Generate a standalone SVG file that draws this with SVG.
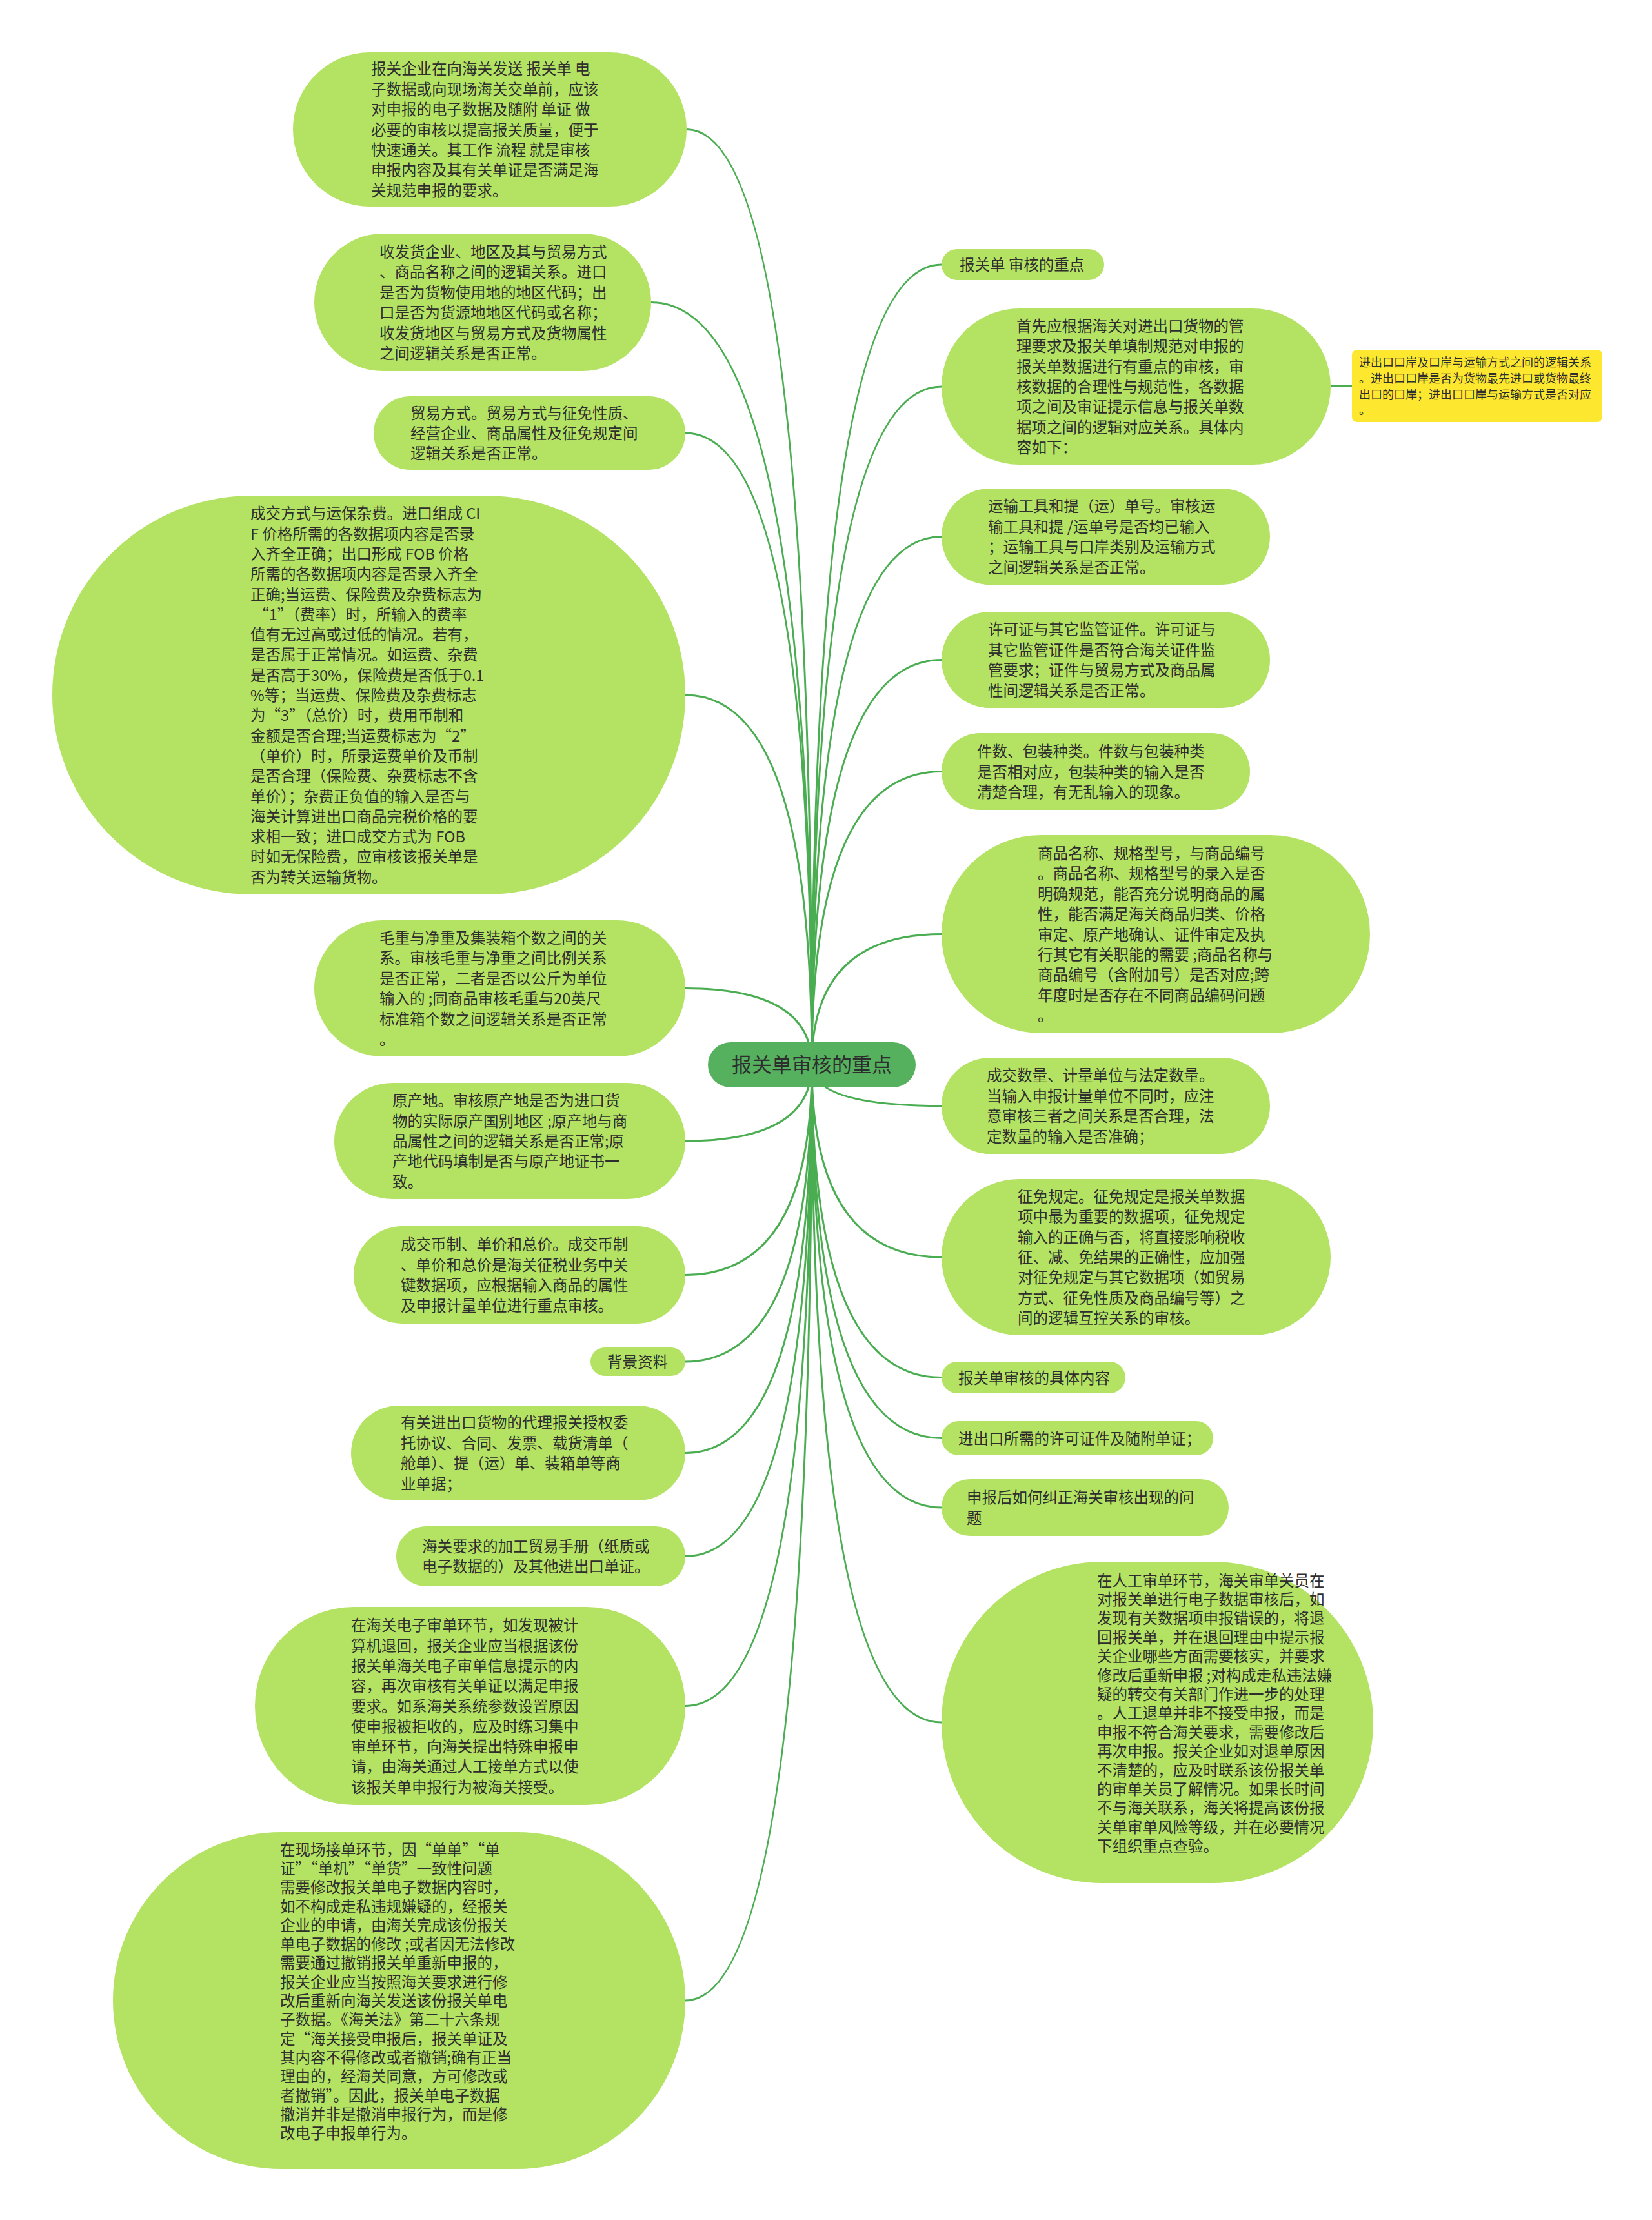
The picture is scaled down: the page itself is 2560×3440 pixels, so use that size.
<svg xmlns="http://www.w3.org/2000/svg" width="2560" height="3440" viewBox="0 0 2560 3440">
<style>
.bg{fill:#ffffff}
.n rect{fill:#b4e363}
.y rect{fill:#fde72f}
.root rect{fill:#55b15e}
.c path{fill:none;stroke:#4aad52;stroke-width:3}
text{font-family:"Noto Sans CJK SC","Noto Sans",sans-serif;fill:#2e2e2e}
.t{font-size:23.5px}
.ts{font-size:18px}
.tr{font-size:31px}
</style>
<rect class="bg" x="0" y="0" width="2560" height="3440"/>
<g id="connectors" class="c">
<path d="M1258,1650 Q1258,200.5 1064,200.5"/>
<path d="M1258,1650 Q1258,468.5 1009,468.5"/>
<path d="M1258,1650 Q1258,671 1062,671"/>
<path d="M1258,1650 Q1258,1077 1062,1077"/>
<path d="M1258,1650 Q1258,1531.5 1062,1531.5"/>
<path d="M1258,1650 Q1258,1768 1062,1768"/>
<path d="M1258,1650 Q1258,1975.5 1062,1975.5"/>
<path d="M1258,1650 Q1258,2110 1062,2110"/>
<path d="M1258,1650 Q1258,2251.5 1062,2251.5"/>
<path d="M1258,1650 Q1258,2411.5 1062,2411.5"/>
<path d="M1258,1650 Q1258,2643.5 1062,2643.5"/>
<path d="M1258,1650 Q1258,3100 1062,3100"/>
<path d="M1258,1650 Q1258,410 1459,410"/>
<path d="M1258,1650 Q1258,599 1459,599"/>
<path d="M1258,1650 Q1258,831.5 1459,831.5"/>
<path d="M1258,1650 Q1258,1022.5 1459,1022.5"/>
<path d="M1258,1650 Q1258,1195.5 1459,1195.5"/>
<path d="M1258,1650 Q1258,1447.5 1459,1447.5"/>
<path d="M1258,1650 Q1258,1713.5 1459,1713.5"/>
<path d="M1258,1650 Q1258,1948 1459,1948"/>
<path d="M1258,1650 Q1258,2134.5 1459,2134.5"/>
<path d="M1258,1650 Q1258,2228.5 1459,2228.5"/>
<path d="M1258,1650 Q1258,2336 1459,2336"/>
<path d="M1258,1650 Q1258,2669 1459,2669"/>
<path d="M2062,598 L2095,598"/>
</g>
<g id="root" class="root">
<rect x="1097" y="1615" width="322" height="70" rx="35" ry="35"/>
<text class="tr" x="1258" y="1661" text-anchor="middle">报关单审核的重点</text>
</g>
<g id="L1" class="n">
<rect x="454" y="81" width="610" height="239" rx="119.5" ry="119.5"/>
<text class="t" x="575" y="115.3"><tspan x="575">报关企业在向海关发送 报关单 电</tspan><tspan x="575" dy="31.4">子数据或向现场海关交单前，应该</tspan><tspan x="575" dy="31.4">对申报的电子数据及随附 单证 做</tspan><tspan x="575" dy="31.4">必要的审核以提高报关质量，便于</tspan><tspan x="575" dy="31.4">快速通关。其工作 流程 就是审核</tspan><tspan x="575" dy="31.4">申报内容及其有关单证是否满足海</tspan><tspan x="575" dy="31.4">关规范申报的要求。</tspan></text>
</g>
<g id="L2" class="n">
<rect x="487" y="362" width="522" height="213" rx="106.5" ry="106.5"/>
<text class="t" x="588" y="399"><tspan x="588">收发货企业、地区及其与贸易方式</tspan><tspan x="588" dy="31.4">、商品名称之间的逻辑关系。进口</tspan><tspan x="588" dy="31.4">是否为货物使用地的地区代码；出</tspan><tspan x="588" dy="31.4">口是否为货源地地区代码或名称；</tspan><tspan x="588" dy="31.4">收发货地区与贸易方式及货物属性</tspan><tspan x="588" dy="31.4">之间逻辑关系是否正常。</tspan></text>
</g>
<g id="L3" class="n">
<rect x="579" y="614" width="483" height="114" rx="57" ry="57"/>
<text class="t" x="636" y="648.6"><tspan x="636">贸易方式。贸易方式与征免性质、</tspan><tspan x="636" dy="31.4">经营企业、商品属性及征免规定间</tspan><tspan x="636" dy="31.4">逻辑关系是否正常。</tspan></text>
</g>
<g id="L4" class="n">
<rect x="81" y="768" width="981" height="618" rx="309" ry="309"/>
<text class="t" x="388" y="804.3"><tspan x="388">成交方式与运保杂费。进口组成 CI</tspan><tspan x="388" dy="31.3">F 价格所需的各数据项内容是否录</tspan><tspan x="388" dy="31.3">入齐全正确；出口形成 FOB 价格</tspan><tspan x="388" dy="31.3">所需的各数据项内容是否录入齐全</tspan><tspan x="388" dy="31.3">正确;当运费、保险费及杂费标志为</tspan><tspan x="388" dy="31.3"> “1”（费率）时，所输入的费率</tspan><tspan x="388" dy="31.3">值有无过高或过低的情况。若有，</tspan><tspan x="388" dy="31.3">是否属于正常情况。如运费、杂费</tspan><tspan x="388" dy="31.3">是否高于30%，保险费是否低于0.1</tspan><tspan x="388" dy="31.3">%等；当运费、保险费及杂费标志</tspan><tspan x="388" dy="31.3">为“3”（总价）时，费用币制和</tspan><tspan x="388" dy="31.3">金额是否合理;当运费标志为“2”</tspan><tspan x="388" dy="31.3">（单价）时，所录运费单价及币制</tspan><tspan x="388" dy="31.3">是否合理（保险费、杂费标志不含</tspan><tspan x="388" dy="31.3">单价）；杂费正负值的输入是否与</tspan><tspan x="388" dy="31.3">海关计算进出口商品完税价格的要</tspan><tspan x="388" dy="31.3">求相一致；进口成交方式为 FOB</tspan><tspan x="388" dy="31.3">时如无保险费，应审核该报关单是</tspan><tspan x="388" dy="31.3">否为转关运输货物。</tspan></text>
</g>
<g id="L5" class="n">
<rect x="487" y="1426" width="575" height="211" rx="105.5" ry="105.5"/>
<text class="t" x="588" y="1462"><tspan x="588">毛重与净重及集装箱个数之间的关</tspan><tspan x="588" dy="31.4">系。审核毛重与净重之间比例关系</tspan><tspan x="588" dy="31.4">是否正常，二者是否以公斤为单位</tspan><tspan x="588" dy="31.4">输入的 ;同商品审核毛重与20英尺</tspan><tspan x="588" dy="31.4">标准箱个数之间逻辑关系是否正常</tspan><tspan x="588" dy="31.4">。</tspan></text>
</g>
<g id="L6" class="n">
<rect x="518" y="1678" width="544" height="180" rx="90" ry="90"/>
<text class="t" x="608" y="1714.2"><tspan x="608">原产地。审核原产地是否为进口货</tspan><tspan x="608" dy="31.4">物的实际原产国别地区 ;原产地与商</tspan><tspan x="608" dy="31.4">品属性之间的逻辑关系是否正常;原</tspan><tspan x="608" dy="31.4">产地代码填制是否与原产地证书一</tspan><tspan x="608" dy="31.4">致。</tspan></text>
</g>
<g id="L7" class="n">
<rect x="548" y="1900" width="514" height="151" rx="75.5" ry="75.5"/>
<text class="t" x="621" y="1937.4"><tspan x="621">成交币制、单价和总价。成交币制</tspan><tspan x="621" dy="31.4">、单价和总价是海关征税业务中关</tspan><tspan x="621" dy="31.4">键数据项，应根据输入商品的属性</tspan><tspan x="621" dy="31.4">及申报计量单位进行重点审核。</tspan></text>
</g>
<g id="L8" class="n">
<rect x="915" y="2088" width="147" height="44" rx="22" ry="22"/>
<text class="t" x="941" y="2119">背景资料</text>
</g>
<g id="L9" class="n">
<rect x="544" y="2178" width="518" height="147" rx="73.5" ry="73.5"/>
<text class="t" x="621" y="2213.4"><tspan x="621">有关进出口货物的代理报关授权委</tspan><tspan x="621" dy="31.4">托协议、合同、发票、载货清单（</tspan><tspan x="621" dy="31.4">舱单）、提（运）单、装箱单等商</tspan><tspan x="621" dy="31.4">业单据；</tspan></text>
</g>
<g id="L10" class="n">
<rect x="614" y="2365" width="448" height="93" rx="46.5" ry="46.5"/>
<text class="t" x="654" y="2404.8"><tspan x="654">海关要求的加工贸易手册（纸质或</tspan><tspan x="654" dy="31.4">电子数据的）及其他进出口单证。</tspan></text>
</g>
<g id="L11" class="n">
<rect x="395" y="2490" width="667" height="307" rx="153.5" ry="153.5"/>
<text class="t" x="544" y="2527.3"><tspan x="544">在海关电子审单环节，如发现被计</tspan><tspan x="544" dy="31.3">算机退回，报关企业应当根据该份</tspan><tspan x="544" dy="31.3">报关单海关电子审单信息提示的内</tspan><tspan x="544" dy="31.3">容，再次审核有关单证以满足申报</tspan><tspan x="544" dy="31.3">要求。如系海关系统参数设置原因</tspan><tspan x="544" dy="31.3">使申报被拒收的，应及时练习集中</tspan><tspan x="544" dy="31.3">审单环节，向海关提出特殊申报申</tspan><tspan x="544" dy="31.3">请，由海关通过人工接单方式以使</tspan><tspan x="544" dy="31.3">该报关单申报行为被海关接受。</tspan></text>
</g>
<g id="L12" class="n">
<rect x="175" y="2839" width="887" height="522" rx="261" ry="261"/>
<text class="t" x="434" y="2874.6"><tspan x="434">在现场接单环节，因“单单”“单</tspan><tspan x="434" dy="29.3">证”“单机”“单货”一致性问题</tspan><tspan x="434" dy="29.3">需要修改报关单电子数据内容时，</tspan><tspan x="434" dy="29.3">如不构成走私违规嫌疑的，经报关</tspan><tspan x="434" dy="29.3">企业的申请，由海关完成该份报关</tspan><tspan x="434" dy="29.3">单电子数据的修改 ;或者因无法修改</tspan><tspan x="434" dy="29.3">需要通过撤销报关单重新申报的，</tspan><tspan x="434" dy="29.3">报关企业应当按照海关要求进行修</tspan><tspan x="434" dy="29.3">改后重新向海关发送该份报关单电</tspan><tspan x="434" dy="29.3">子数据。《海关法》第二十六条规</tspan><tspan x="434" dy="29.3">定“海关接受申报后，报关单证及</tspan><tspan x="434" dy="29.3">其内容不得修改或者撤销;确有正当</tspan><tspan x="434" dy="29.3">理由的，经海关同意，方可修改或</tspan><tspan x="434" dy="29.3">者撤销”。因此，报关单电子数据</tspan><tspan x="434" dy="29.3">撤消并非是撤消申报行为，而是修</tspan><tspan x="434" dy="29.3">改电子申报单行为。</tspan></text>
</g>
<g id="R1" class="n">
<rect x="1459" y="386" width="252" height="48" rx="24" ry="24"/>
<text class="t" x="1487" y="419">报关单 审核的重点</text>
</g>
<g id="R2" class="n">
<rect x="1459" y="478" width="603" height="242" rx="121" ry="121"/>
<text class="t" x="1575" y="513.8"><tspan x="1575">首先应根据海关对进出口货物的管</tspan><tspan x="1575" dy="31.4">理要求及报关单填制规范对申报的</tspan><tspan x="1575" dy="31.4">报关单数据进行有重点的审核，审</tspan><tspan x="1575" dy="31.4">核数据的合理性与规范性，各数据</tspan><tspan x="1575" dy="31.4">项之间及审证提示信息与报关单数</tspan><tspan x="1575" dy="31.4">据项之间的逻辑对应关系。具体内</tspan><tspan x="1575" dy="31.4">容如下：</tspan></text>
</g>
<g id="Y1" class="y">
<rect x="2095" y="542" width="388" height="112" rx="8" ry="8"/>
<text class="ts" x="2106" y="567.7"><tspan x="2106">进出口口岸及口岸与运输方式之间的逻辑关系</tspan><tspan x="2106" dy="24.9">。进出口口岸是否为货物最先进口或货物最终</tspan><tspan x="2106" dy="24.9">出口的口岸；进出口口岸与运输方式是否对应</tspan><tspan x="2106" dy="24.9">。</tspan></text>
</g>
<g id="R3" class="n">
<rect x="1459" y="757" width="509" height="149" rx="74.5" ry="74.5"/>
<text class="t" x="1531" y="793.4"><tspan x="1531">运输工具和提（运）单号。审核运</tspan><tspan x="1531" dy="31.4">输工具和提 /运单号是否均已输入</tspan><tspan x="1531" dy="31.4">；运输工具与口岸类别及运输方式</tspan><tspan x="1531" dy="31.4">之间逻辑关系是否正常。</tspan></text>
</g>
<g id="R4" class="n">
<rect x="1459" y="948" width="509" height="149" rx="74.5" ry="74.5"/>
<text class="t" x="1531" y="984.4"><tspan x="1531">许可证与其它监管证件。许可证与</tspan><tspan x="1531" dy="31.4">其它监管证件是否符合海关证件监</tspan><tspan x="1531" dy="31.4">管要求；证件与贸易方式及商品属</tspan><tspan x="1531" dy="31.4">性间逻辑关系是否正常。</tspan></text>
</g>
<g id="R5" class="n">
<rect x="1459" y="1136" width="478" height="119" rx="59.5" ry="59.5"/>
<text class="t" x="1514" y="1173.1"><tspan x="1514">件数、包装种类。件数与包装种类</tspan><tspan x="1514" dy="31.4">是否相对应，包装种类的输入是否</tspan><tspan x="1514" dy="31.4">清楚合理，有无乱输入的现象。</tspan></text>
</g>
<g id="R6" class="n">
<rect x="1459" y="1294" width="664" height="307" rx="153.5" ry="153.5"/>
<text class="t" x="1608" y="1330.9"><tspan x="1608">商品名称、规格型号，与商品编号</tspan><tspan x="1608" dy="31.4">。商品名称、规格型号的录入是否</tspan><tspan x="1608" dy="31.4">明确规范，能否充分说明商品的属</tspan><tspan x="1608" dy="31.4">性，能否满足海关商品归类、价格</tspan><tspan x="1608" dy="31.4">审定、原产地确认、证件审定及执</tspan><tspan x="1608" dy="31.4">行其它有关职能的需要 ;商品名称与</tspan><tspan x="1608" dy="31.4">商品编号（含附加号）是否对应;跨</tspan><tspan x="1608" dy="31.4">年度时是否存在不同商品编码问题</tspan><tspan x="1608" dy="31.4">。</tspan></text>
</g>
<g id="R7" class="n">
<rect x="1459" y="1639" width="509" height="149" rx="74.5" ry="74.5"/>
<text class="t" x="1529" y="1675.4"><tspan x="1529">成交数量、计量单位与法定数量。</tspan><tspan x="1529" dy="31.4">当输入申报计量单位不同时，应注</tspan><tspan x="1529" dy="31.4">意审核三者之间关系是否合理，法</tspan><tspan x="1529" dy="31.4">定数量的输入是否准确；</tspan></text>
</g>
<g id="R8" class="n">
<rect x="1459" y="1827" width="603" height="242" rx="121" ry="121"/>
<text class="t" x="1577" y="1862.8"><tspan x="1577">征免规定。征免规定是报关单数据</tspan><tspan x="1577" dy="31.4">项中最为重要的数据项，征免规定</tspan><tspan x="1577" dy="31.4">输入的正确与否，将直接影响税收</tspan><tspan x="1577" dy="31.4">征、减、免结果的正确性，应加强</tspan><tspan x="1577" dy="31.4">对征免规定与其它数据项（如贸易</tspan><tspan x="1577" dy="31.4">方式、征免性质及商品编号等）之</tspan><tspan x="1577" dy="31.4">间的逻辑互控关系的审核。</tspan></text>
</g>
<g id="R9" class="n">
<rect x="1459" y="2110" width="285" height="49" rx="24.5" ry="24.5"/>
<text class="t" x="1485" y="2143.5">报关单审核的具体内容</text>
</g>
<g id="R10" class="n">
<rect x="1459" y="2202" width="421" height="53" rx="26.5" ry="26.5"/>
<text class="t" x="1485" y="2237.5">进出口所需的许可证件及随附单证；</text>
</g>
<g id="R11" class="n">
<rect x="1459" y="2292" width="445" height="88" rx="44" ry="44"/>
<text class="t" x="1498" y="2329.3"><tspan x="1498">申报后如何纠正海关审核出现的问</tspan><tspan x="1498" dy="31.4">题</tspan></text>
</g>
<g id="R12" class="n">
<rect x="1459" y="2420" width="669" height="498" rx="249" ry="249"/>
<text class="t" x="1700" y="2457.5"><tspan x="1700">在人工审单环节，海关审单关员在</tspan><tspan x="1700" dy="29.4">对报关单进行电子数据审核后，如</tspan><tspan x="1700" dy="29.4">发现有关数据项申报错误的，将退</tspan><tspan x="1700" dy="29.4">回报关单，并在退回理由中提示报</tspan><tspan x="1700" dy="29.4">关企业哪些方面需要核实，并要求</tspan><tspan x="1700" dy="29.4">修改后重新申报 ;对构成走私违法嫌</tspan><tspan x="1700" dy="29.4">疑的转交有关部门作进一步的处理</tspan><tspan x="1700" dy="29.4">。人工退单并非不接受申报，而是</tspan><tspan x="1700" dy="29.4">申报不符合海关要求，需要修改后</tspan><tspan x="1700" dy="29.4">再次申报。报关企业如对退单原因</tspan><tspan x="1700" dy="29.4">不清楚的，应及时联系该份报关单</tspan><tspan x="1700" dy="29.4">的审单关员了解情况。如果长时间</tspan><tspan x="1700" dy="29.4">不与海关联系，海关将提高该份报</tspan><tspan x="1700" dy="29.4">关单审单风险等级，并在必要情况</tspan><tspan x="1700" dy="29.4">下组织重点查验。</tspan></text>
</g>
</svg>
